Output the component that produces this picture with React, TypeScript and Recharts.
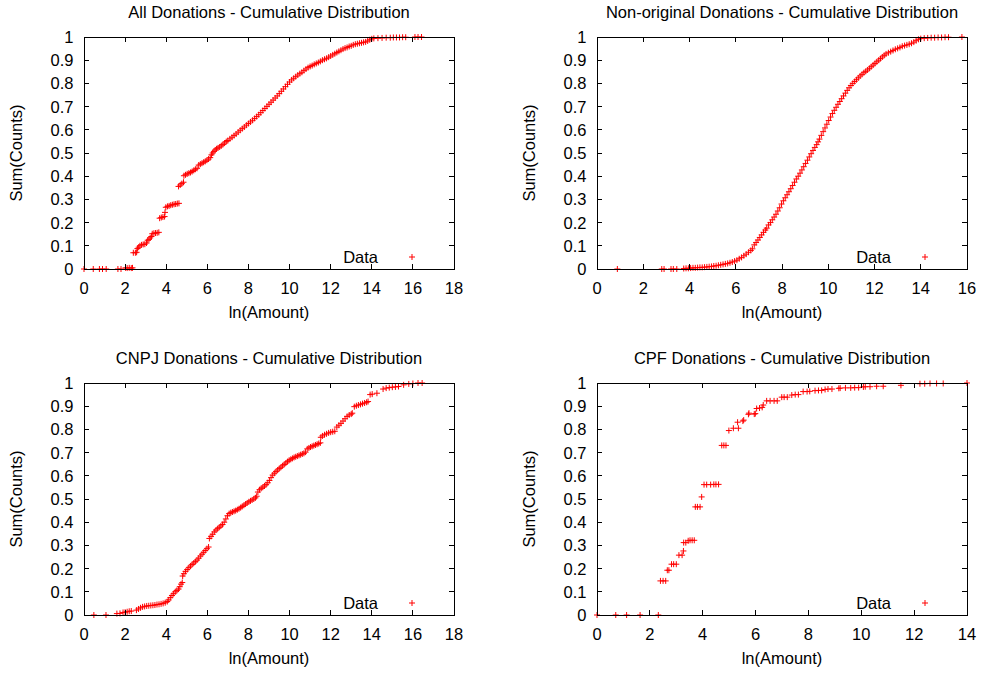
import React from 'react';
import { ScatterChart, Scatter, XAxis, YAxis } from 'recharts';

// gnuplot-like look: Helvetica-ish font, red "+" points, inward ticks on all four sides
const FONT = "'Liberation Sans', Arial, Helvetica, sans-serif";
const RED = '#ff0000';
const FS = 16.5;

const yTicks = [0, 0.1, 0.2, 0.3, 0.4, 0.5, 0.6, 0.7, 0.8, 0.9, 1];
const xTicks18 = [0, 2, 4, 6, 8, 10, 12, 14, 16, 18];
const xTicks16 = [0, 2, 4, 6, 8, 10, 12, 14, 16];
const xTicks14 = [0, 2, 4, 6, 8, 10, 12, 14];

const titles = [
  'All Donations - Cumulative Distribution',
  'Non-original Donations - Cumulative Distribution',
  'CNPJ Donations - Cumulative Distribution',
  'CPF Donations - Cumulative Distribution',
];
const xLabel = 'ln(Amount)';
const yLabel = 'Sum(Counts)';
const legendLabel = 'Data';

// [ln(amount), cumulative share]
const allDonations: [number, number][] = [
  [0, 0], [0.45, 0], [0.75, 0], [0.9, 0], [1.08, 0], [1.65, 0], [1.8, 0],
  [2.02, 0.005], [2.1, 0.004], [2.2, 0.005], [2.3, 0.004], [2.36, 0.005],
  [2.4, 0.07], [2.5, 0.07], [2.56, 0.072],
  [2.6, 0.088], [2.66, 0.094], [2.72, 0.1], [2.8, 0.104], [2.88, 0.106], [2.96, 0.107], [3.04, 0.112],
  [3.1, 0.124], [3.16, 0.128], [3.22, 0.134], [3.28, 0.14],
  [3.32, 0.152], [3.4, 0.154], [3.48, 0.155], [3.56, 0.156], [3.64, 0.158],
  [3.68, 0.219], [3.76, 0.222], [3.84, 0.224], [3.92, 0.226], [3.94, 0.244],
  [3.98, 0.266], [4.06, 0.27], [4.14, 0.272], [4.22, 0.275], [4.3, 0.277], [4.38, 0.279], [4.46, 0.28], [4.54, 0.282], [4.62, 0.283],
  [4.6, 0.356], [4.68, 0.362], [4.76, 0.368], [4.84, 0.374],
  [4.86, 0.402], [4.94, 0.406], [5.02, 0.41], [5.1, 0.413], [5.18, 0.416], [5.26, 0.42], [5.34, 0.425], [5.42, 0.43], [5.5, 0.434],
  [5.58, 0.448], [5.66, 0.452], [5.74, 0.456], [5.82, 0.46], [5.9, 0.464], [5.98, 0.469], [6.06, 0.474], [6.14, 0.48],
  [6.2, 0.492], [6.26, 0.5], [6.32, 0.507], [6.38, 0.513], [6.45, 0.518],
  [6.52, 0.522], [6.6, 0.526], [6.68, 0.531], [6.76, 0.537], [6.84, 0.543], [6.92, 0.549],
  [7.0, 0.554], [7.1, 0.561], [7.2, 0.568], [7.3, 0.575], [7.4, 0.582], [7.5, 0.59], [7.6, 0.598], [7.7, 0.605],
  [7.8, 0.612], [7.9, 0.62], [8.0, 0.627], [8.1, 0.634], [8.2, 0.641], [8.3, 0.649], [8.4, 0.657], [8.5, 0.665],
  [8.6, 0.674], [8.7, 0.683], [8.8, 0.692], [8.9, 0.701], [9.0, 0.71], [9.1, 0.719], [9.2, 0.728], [9.3, 0.737],
  [9.4, 0.746], [9.5, 0.756], [9.6, 0.766], [9.7, 0.776], [9.8, 0.786], [9.9, 0.796], [10.0, 0.806],
  [10.1, 0.815], [10.2, 0.822], [10.3, 0.829], [10.4, 0.836], [10.5, 0.842], [10.6, 0.848], [10.7, 0.855],
  [10.8, 0.862], [10.9, 0.868], [11.0, 0.873], [11.1, 0.877], [11.2, 0.882], [11.3, 0.886], [11.4, 0.89],
  [11.5, 0.895], [11.6, 0.9], [11.7, 0.904], [11.8, 0.908], [11.9, 0.913], [12.0, 0.918], [12.1, 0.923],
  [12.2, 0.928], [12.3, 0.933], [12.4, 0.938], [12.5, 0.943], [12.6, 0.948], [12.7, 0.952], [12.8, 0.955],
  [12.9, 0.959], [13.0, 0.962], [13.1, 0.966], [13.2, 0.969], [13.3, 0.971], [13.4, 0.973], [13.5, 0.975],
  [13.6, 0.977], [13.7, 0.979], [13.8, 0.983], [13.9, 0.988], [14.0, 0.992], [14.1, 0.994], [14.3, 0.995],
  [14.5, 0.996], [14.7, 0.997], [14.9, 0.997], [15.05, 0.998], [15.2, 0.998], [15.35, 0.998], [15.5, 0.999],
  [15.65, 0.999], [16.1, 1], [16.25, 1], [16.42, 1],
];

const nonOriginal: [number, number][] = [
  [0.88, 0], [2.8, 0], [2.9, 0], [3.2, 0], [3.3, 0], [3.45, 0], [3.75, 0.002], [3.85, 0.003], [3.95, 0.003],
  [4.05, 0.004], [4.15, 0.005], [4.25, 0.005], [4.35, 0.006], [4.45, 0.007], [4.55, 0.007], [4.65, 0.008],
  [4.75, 0.009], [4.85, 0.01], [4.95, 0.011], [5.05, 0.013], [5.15, 0.014], [5.25, 0.016], [5.35, 0.018],
  [5.45, 0.02], [5.55, 0.022], [5.65, 0.024], [5.75, 0.027], [5.85, 0.03], [5.95, 0.034], [6.05, 0.038],
  [6.15, 0.044], [6.25, 0.05], [6.35, 0.057], [6.45, 0.064], [6.55, 0.072], [6.65, 0.08], [6.72, 0.087],
  [6.8, 0.104], [6.88, 0.114], [6.96, 0.125], [7.04, 0.136], [7.12, 0.147], [7.2, 0.158], [7.28, 0.168], [7.34, 0.176],
  [7.42, 0.19], [7.5, 0.2], [7.58, 0.212], [7.66, 0.224], [7.74, 0.236], [7.82, 0.25], [7.9, 0.264], [7.98, 0.28],
  [8.06, 0.294], [8.14, 0.307], [8.22, 0.32], [8.3, 0.333], [8.38, 0.346], [8.46, 0.36], [8.54, 0.374], [8.62, 0.388],
  [8.7, 0.4], [8.78, 0.413], [8.86, 0.427], [8.94, 0.441], [9.02, 0.455], [9.1, 0.469], [9.18, 0.483], [9.26, 0.497],
  [9.34, 0.511], [9.42, 0.524], [9.5, 0.536], [9.56, 0.548], [9.62, 0.56], [9.7, 0.576], [9.78, 0.592], [9.86, 0.608],
  [9.94, 0.624], [10.02, 0.64], [10.1, 0.655], [10.18, 0.67], [10.26, 0.684], [10.34, 0.697], [10.42, 0.71],
  [10.5, 0.722], [10.58, 0.734], [10.66, 0.746], [10.74, 0.758], [10.82, 0.77], [10.9, 0.781], [10.98, 0.791],
  [11.06, 0.8], [11.14, 0.808], [11.22, 0.816], [11.3, 0.824], [11.38, 0.832], [11.46, 0.839], [11.54, 0.846],
  [11.62, 0.852], [11.7, 0.858], [11.78, 0.865], [11.86, 0.872], [11.94, 0.879], [12.02, 0.886], [12.1, 0.893],
  [12.18, 0.9], [12.26, 0.907], [12.34, 0.914], [12.42, 0.921], [12.5, 0.927], [12.6, 0.932], [12.7, 0.937],
  [12.8, 0.942], [12.9, 0.947], [13.0, 0.951], [13.1, 0.955], [13.2, 0.96], [13.3, 0.963], [13.4, 0.966],
  [13.5, 0.969], [13.6, 0.973], [13.7, 0.978], [13.8, 0.984], [13.9, 0.99], [14.0, 0.993], [14.15, 0.995],
  [14.3, 0.996], [14.45, 0.997], [14.6, 0.997], [14.75, 0.998], [14.9, 0.998], [15.05, 0.999], [15.2, 0.999], [15.78, 1],
];

const cnpjDonations: [number, number][] = [
  [0.48, 0], [1.07, 0], [1.6, 0.006], [1.75, 0.007], [1.9, 0.011], [2.0, 0.012], [2.1, 0.014], [2.2, 0.016], [2.3, 0.017],
  [2.55, 0.021], [2.65, 0.026], [2.75, 0.031], [2.85, 0.035], [2.95, 0.037], [3.05, 0.039], [3.15, 0.04], [3.25, 0.041],
  [3.35, 0.042], [3.45, 0.043], [3.55, 0.045], [3.65, 0.046], [3.75, 0.048], [3.85, 0.05], [3.95, 0.053], [4.05, 0.058],
  [4.12, 0.065], [4.2, 0.075], [4.28, 0.084], [4.36, 0.092], [4.44, 0.1], [4.52, 0.106], [4.6, 0.112],
  [4.66, 0.122], [4.72, 0.133], [4.78, 0.14],
  [4.8, 0.168], [4.86, 0.178], [4.94, 0.188], [5.02, 0.196], [5.1, 0.204], [5.18, 0.211], [5.26, 0.218], [5.34, 0.224],
  [5.42, 0.23], [5.5, 0.237], [5.58, 0.245], [5.66, 0.254], [5.74, 0.262], [5.82, 0.27], [5.9, 0.278], [5.98, 0.286], [6.06, 0.293],
  [6.1, 0.33], [6.18, 0.339], [6.26, 0.348], [6.34, 0.358], [6.42, 0.366], [6.5, 0.372], [6.58, 0.378], [6.66, 0.384],
  [6.74, 0.39], [6.82, 0.4], [6.9, 0.414], [6.98, 0.428], [7.06, 0.437], [7.14, 0.441], [7.22, 0.444], [7.3, 0.447],
  [7.38, 0.45], [7.46, 0.454], [7.54, 0.458], [7.62, 0.463], [7.7, 0.468], [7.78, 0.473], [7.86, 0.478], [7.94, 0.483],
  [8.02, 0.488], [8.1, 0.492], [8.18, 0.496], [8.26, 0.5], [8.34, 0.505], [8.4, 0.512],
  [8.46, 0.53], [8.54, 0.54], [8.62, 0.546], [8.7, 0.551], [8.78, 0.556], [8.86, 0.562], [8.94, 0.57], [9.02, 0.58],
  [9.1, 0.592], [9.18, 0.603], [9.26, 0.611], [9.34, 0.618], [9.42, 0.625], [9.5, 0.631], [9.58, 0.637], [9.66, 0.643],
  [9.74, 0.649], [9.82, 0.655], [9.9, 0.661], [9.98, 0.667], [10.06, 0.671], [10.14, 0.675], [10.22, 0.679], [10.3, 0.682],
  [10.38, 0.685], [10.46, 0.688], [10.54, 0.691], [10.62, 0.694], [10.7, 0.697], [10.78, 0.702],
  [10.86, 0.716], [10.94, 0.72], [11.02, 0.724], [11.1, 0.727], [11.18, 0.73], [11.26, 0.733], [11.34, 0.736], [11.42, 0.739], [11.5, 0.742],
  [11.52, 0.766], [11.6, 0.772], [11.7, 0.777], [11.8, 0.781], [11.9, 0.785], [12.0, 0.788], [12.1, 0.79], [12.2, 0.792],
  [12.3, 0.81], [12.4, 0.818], [12.5, 0.826], [12.6, 0.836], [12.7, 0.846], [12.8, 0.856], [12.9, 0.862], [13.0, 0.866], [13.05, 0.87],
  [13.15, 0.898], [13.25, 0.902], [13.35, 0.905], [13.45, 0.908], [13.55, 0.911], [13.65, 0.914], [13.75, 0.917], [13.82, 0.92],
  [13.92, 0.95], [14.02, 0.952], [14.25, 0.956], [14.55, 0.974], [14.7, 0.978], [14.85, 0.98], [15.0, 0.982], [15.15, 0.983],
  [15.3, 0.985], [15.55, 0.992], [15.8, 0.996], [16.0, 0.998], [16.25, 1], [16.45, 1],
];

const cpfDonations: [number, number][] = [
  [0, 0], [0.71, 0], [1.12, 0], [1.63, 0], [2.32, 0],
  [2.4, 0.147], [2.5, 0.147], [2.6, 0.147],
  [2.66, 0.193], [2.72, 0.193],
  [2.82, 0.219], [2.9, 0.219], [3.0, 0.219],
  [3.1, 0.258], [3.22, 0.258], [3.27, 0.276],
  [3.28, 0.312], [3.36, 0.312],
  [3.45, 0.32], [3.52, 0.322], [3.6, 0.322], [3.68, 0.322],
  [3.72, 0.466], [3.8, 0.466], [3.9, 0.466], [3.96, 0.509],
  [4.05, 0.562], [4.15, 0.562], [4.3, 0.562], [4.42, 0.563], [4.5, 0.563], [4.6, 0.563],
  [4.72, 0.731], [4.8, 0.731], [4.88, 0.731],
  [4.99, 0.795], [5.16, 0.805], [5.35, 0.805], [5.32, 0.831], [5.52, 0.836], [5.55, 0.84],
  [5.73, 0.865], [5.75, 0.87], [5.95, 0.866], [5.99, 0.868],
  [6.04, 0.89], [6.15, 0.892], [6.25, 0.895], [6.29, 0.905],
  [6.42, 0.923], [6.55, 0.923], [6.7, 0.923], [6.82, 0.923],
  [6.99, 0.939], [7.08, 0.939], [7.2, 0.939],
  [7.37, 0.948], [7.5, 0.95], [7.62, 0.95],
  [7.8, 0.963], [7.95, 0.963], [8.05, 0.964], [8.25, 0.967], [8.38, 0.968], [8.5, 0.968], [8.63, 0.972],
  [8.74, 0.974], [8.89, 0.974],
  [9.15, 0.977], [9.2, 0.978], [9.4, 0.979], [9.6, 0.979], [9.75, 0.98], [9.9, 0.98],
  [10.08, 0.983], [10.15, 0.984], [10.33, 0.984],
  [10.58, 0.986], [10.83, 0.986],
  [11.5, 0.99],
  [12.22, 0.997], [12.4, 0.997], [12.6, 0.998], [12.85, 0.998], [13.1, 0.998],
  [14.0, 1],
];

const Plus = (props: any) => {
  const { cx, cy } = props;
  if (cx == null || cy == null) return <g />;
  return (
    <path
      d={`M${cx - 3},${cy}H${cx + 3}M${cx},${cy - 3}V${cy + 3}`}
      stroke={RED}
      strokeWidth={1}
      fill="none"
    />
  );
};

interface PanelProps {
  left: number;
  top: number;
  width: number;
  padLeft: number; // space left of the y axis area
  title: string;
  points: [number, number][];
  xMax: number;
  xTicks: number[];
}

const H = 336;
const AXIS_W = 84;
const PLOT_W = 370;
const PLOT_TOP = 37;
const PLOT_BOTTOM = 269;
const PLOT_H = PLOT_BOTTOM - PLOT_TOP;
const TICK = 5;

function Panel({ left, top, width, padLeft, title, points, xMax, xTicks }: PanelProps) {
  const data = points.map(([x, y]) => ({ x, y }));
  const plotLeft = padLeft + AXIS_W;
  const plotRight = plotLeft + PLOT_W;
  const cx = (plotLeft + plotRight) / 2;
  const textBase: React.CSSProperties = {
    position: 'absolute', fontFamily: FONT, fontSize: FS, color: '#000', whiteSpace: 'nowrap',
    lineHeight: '20px', height: 20, textAlign: 'center', width: 400,
  };
  const mark = (l: number, t: number, w: number, h: number, key: string) => (
    <div key={key} style={{ position: 'absolute', left: l, top: t, width: w, height: h, background: '#000' }} />
  );

  const XTick = (p: any) => (
    <text x={p.x} y={PLOT_BOTTOM + 24.5} textAnchor="middle" fontFamily={FONT} fontSize={FS} fill="#000">
      {p.payload.value}
    </text>
  );

  const YTick = (p: any) => (
    <text x={plotLeft - 10.5} y={p.y + 6} textAnchor="end" fontFamily={FONT} fontSize={FS} fill="#000">
      {p.payload.value}
    </text>
  );

  return (
    <div style={{ position: 'absolute', left, top, width, height: H }}>
      <ScatterChart
        width={width}
        height={H}
        margin={{ top: PLOT_TOP, right: width - plotRight, bottom: 0, left: padLeft }}
      >
        <XAxis
          dataKey="x"
          type="number"
          domain={[0, xMax]}
          ticks={xTicks}
          interval={0}
          height={H - PLOT_BOTTOM}
          tickSize={0}
          tickMargin={0}
          tick={XTick}
          axisLine={false}
          tickLine={false}
        />
        <YAxis
          dataKey="y"
          type="number"
          domain={[0, 1]}
          ticks={yTicks}
          interval={0}
          width={AXIS_W}
          tickSize={0}
          tickMargin={0}
          tick={YTick}
          axisLine={false}
          tickLine={false}
        />
        <Scatter data={data} shape={Plus} isAnimationActive={false} />
      </ScatterChart>

      {/* border and inward tick marks on all four sides */}
      <div
        style={{
          position: 'absolute', left: plotLeft - 0.5, top: PLOT_TOP - 0.5, width: PLOT_W + 1, height: PLOT_H + 1,
          border: '1px solid #000', boxSizing: 'border-box', pointerEvents: 'none',
        }}
      />
      {xTicks.map((t) => {
        const x = plotLeft + (t / xMax) * PLOT_W - 0.5;
        return [
          mark(x, PLOT_BOTTOM - TICK, 1, TICK, `xb${t}`),
          mark(x, PLOT_TOP, 1, TICK, `xt${t}`),
        ];
      })}
      {yTicks.map((t) => {
        const y = PLOT_BOTTOM - t * PLOT_H - 0.5;
        return [
          mark(plotLeft, y, TICK, 1, `yl${t}`),
          mark(plotRight - TICK, y, TICK, 1, `yr${t}`),
        ];
      })}

      <div style={{ ...textBase, left: cx - 200, top: 2 }}>{title}</div>
      <div style={{ ...textBase, left: cx - 200, top: 302 }}>{xLabel}</div>
      <div
        style={{
          ...textBase, width: 200, left: plotLeft - 68 - 100, top: (PLOT_TOP + PLOT_BOTTOM) / 2 - 10,
          transform: 'rotate(-90deg)',
        }}
      >
        {yLabel}
      </div>

      {/* key, bottom right inside the frame */}
      <div
        style={{
          ...textBase, width: 60, textAlign: 'right', left: plotRight - 76 - 60, top: PLOT_BOTTOM - 12 - 10,
        }}
      >
        {legendLabel}
      </div>
      <svg
        width={10}
        height={10}
        style={{ position: 'absolute', left: plotRight - 42 - 5, top: PLOT_BOTTOM - 12 - 5 }}
      >
        <Plus cx={5} cy={5} />
      </svg>
    </div>
  );
}

export default function App() {
  return (
    <div
      style={{
        position: 'absolute', left: 0, top: 0, width: 981, height: 673, background: '#fff', overflow: 'hidden',
      }}
    >
      <Panel left={0} top={0} width={490} padLeft={0} title={titles[0]} points={allDonations} xMax={18} xTicks={xTicks18} />
      <Panel left={490} top={0} width={491} padLeft={23} title={titles[1]} points={nonOriginal} xMax={16} xTicks={xTicks16} />
      <Panel left={0} top={346} width={490} padLeft={0} title={titles[2]} points={cnpjDonations} xMax={18} xTicks={xTicks18} />
      <Panel left={490} top={346} width={491} padLeft={23} title={titles[3]} points={cpfDonations} xMax={14} xTicks={xTicks14} />
    </div>
  );
}
